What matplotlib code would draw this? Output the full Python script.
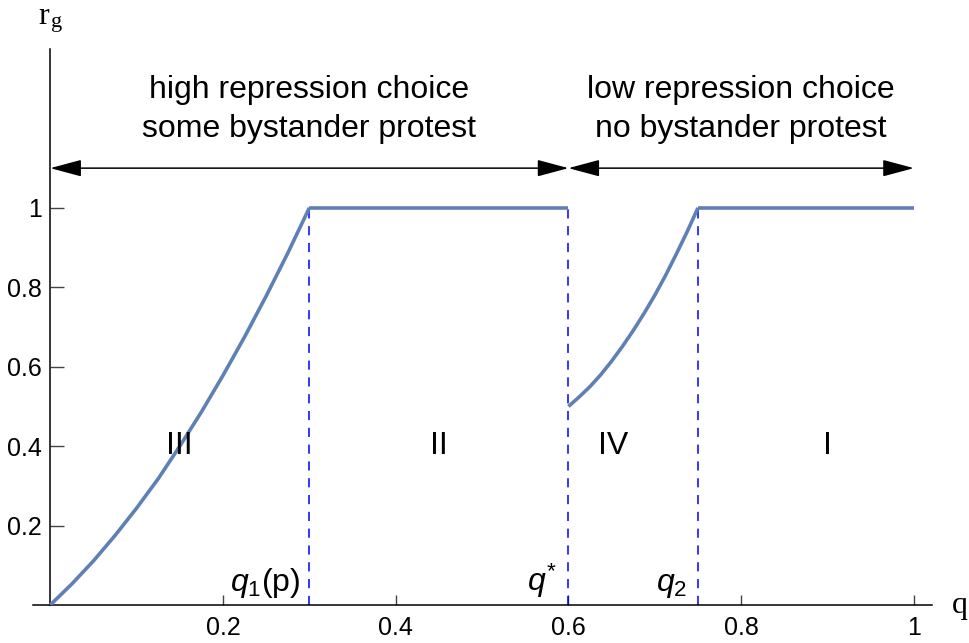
import numpy as np
import matplotlib
matplotlib.use("Agg")
import matplotlib.pyplot as plt

plt.rcParams['font.family'] = ['Liberation Sans', 'DejaVu Sans']
plt.rcParams['mathtext.fontset'] = 'custom'
plt.rcParams['mathtext.rm'] = 'Liberation Sans'
plt.rcParams['mathtext.it'] = 'Liberation Sans:italic'
plt.rcParams['mathtext.bf'] = 'Liberation Sans:bold'

# ---- data ----
q_III = [0.0, 0.025, 0.05, 0.075, 0.1, 0.125, 0.15, 0.175, 0.2, 0.225, 0.25, 0.275, 0.3]
r_III = [0.0, 0.053, 0.111, 0.175, 0.244, 0.318, 0.40, 0.486, 0.578, 0.675, 0.778, 0.886, 1.0]
q_II = [0.3, 0.6]
r_II = [1.0, 1.0]
q_IV = [0.6, 0.6125, 0.625, 0.6375, 0.65, 0.6625, 0.675, 0.6875, 0.7, 0.7125, 0.725, 0.7375, 0.75]
r_IV = [0.5, 0.524, 0.550, 0.580, 0.614, 0.651, 0.691, 0.734, 0.78, 0.830, 0.884, 0.940, 1.0]
q_I = [0.75, 1.0]
r_I = [1.0, 1.0]

thresholds = [0.3, 0.6, 0.75]
threshold_labels = [r'$q_1$(p)', r'$q^{*}$', r'$q_2$']
threshold_label_x = [0.289, 0.586, 0.737]

region_names = ['III', 'II', 'IV', 'I']
region_x = [0.15, 0.45, 0.652, 0.9]
region_y = 0.4

xticks = [0.2, 0.4, 0.6, 0.8, 1.0]
xticklabels = ['0.2', '0.4', '0.6', '0.8', '1']
yticks = [0.2, 0.4, 0.6, 0.8, 1.0]
yticklabels = ['0.2', '0.4', '0.6', '0.8', '1']

arrow_spans = [(0.0, 0.6), (0.6, 1.0)]
arrow_y = 1.1
choice_texts = ['high repression choice\nsome bystander protest',
                'low repression choice\nno bystander protest']
choice_x = [0.30, 0.8]

# ---- figure ----
W, H = 969, 643
fig = plt.figure(figsize=(W / 100, H / 100), dpi=100)
ax = fig.add_axes([33 / W, (H - 605) / H, (932 - 33) / W, (605 - 49) / H])
ax.set_xlim(-0.02, 1.021)
ax.set_ylim(0, 1.40)

for s in ['top', 'right']:
    ax.spines[s].set_visible(False)
ax.spines['left'].set_position(('data', 0))
for s in ['left', 'bottom']:
    ax.spines[s].set_linewidth(1.1)
    ax.spines[s].set_color('black')

ax.set_xticks(xticks)
ax.set_xticklabels(xticklabels)
ax.set_yticks(yticks)
ax.set_yticklabels(yticklabels)
ax.tick_params(axis='both', direction='in', length=7, width=1.0, color='#444444',
               labelsize=18, pad=6)
ax.tick_params(axis='y', length=10)
ax.tick_params(axis='x', pad=8)

curve_style = dict(color='#5E81B5', lw=2.6, solid_capstyle='butt', zorder=3)
ax.plot(q_III, r_III, **curve_style)
ax.plot(q_II, r_II, **curve_style)
ax.plot(q_IV, r_IV, **curve_style)
ax.plot(q_I, r_I, **curve_style)

for xv in thresholds:
    ax.plot([xv, xv], [0, 1.0], color='#0000FF', lw=1.1, dashes=(6, 5), zorder=2)

for lab, lx in zip(threshold_labels, threshold_label_x):
    ax.text(lx, 0.012, lab, ha='right', va='bottom', fontsize=23)

for name, rx in zip(region_names, region_x):
    ax.text(rx, region_y, name, ha='center', va='center', fontsize=23)

for (a, b) in arrow_spans:
    ax.annotate('', xy=(a, arrow_y), xytext=(b, arrow_y),
                arrowprops=dict(arrowstyle='<|-|>,head_length=0.97,head_width=0.26',
                                color='black', lw=1.1, shrinkA=0, shrinkB=0,
                                mutation_scale=20))

for t, cx in zip(choice_texts, choice_x):
    ax.text(cx, 1.248, t, ha='center', va='center', fontsize=23, linespacing=1.4)

fig.text(44 / W, 1 - 16 / H, r'r', fontsize=23, family='Liberation Serif',
         ha='center', va='center')
fig.text(57 / W, 1 - 22 / H, r'g', fontsize=16, family='Liberation Serif',
         ha='center', va='center')
fig.text(960 / W, 1 - 605 / H, 'q', fontsize=23, family='Liberation Serif',
         ha='center', va='center')

fig.savefig('out.png', dpi=100)
